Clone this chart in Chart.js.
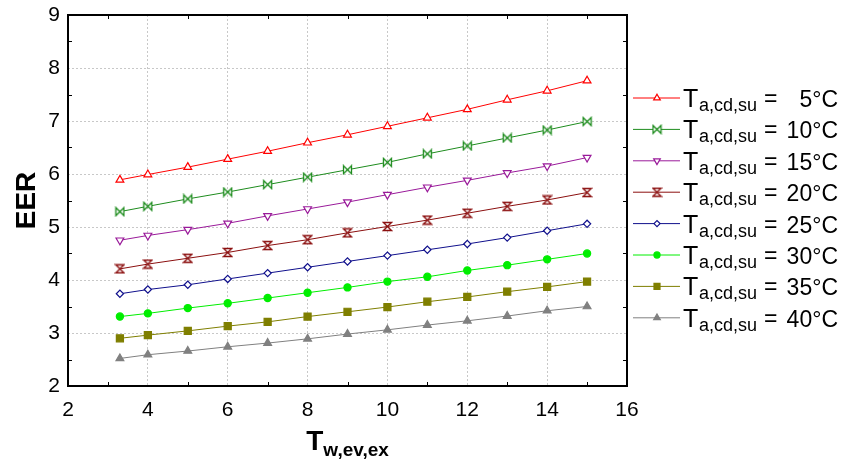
<!DOCTYPE html>
<html>
<head>
<meta charset="utf-8">
<script src="https://cdn.jsdelivr.net/npm/chart.js"></script>
<style>
  html, body { margin: 0; padding: 0; background: #fff; }
</style>
</head>
<body>
<canvas id="eer-chart" width="842" height="463"></canvas>
<script>
// Chilled-water outlet temperature (x) and ambient air temperatures (one line each)
const tWater = [3.3, 4, 5, 6, 7, 8, 9, 10, 11, 12, 13, 14, 15];
const tAir   = [5, 10, 15, 20, 25, 30, 35, 40];

const eer05 = [5.89, 5.99, 6.13, 6.28, 6.43, 6.59, 6.74, 6.90, 7.06, 7.22, 7.40, 7.57, 7.76];
const eer10 = [5.29, 5.39, 5.53, 5.66, 5.80, 5.94, 6.08, 6.22, 6.38, 6.53, 6.68, 6.83, 6.99];
const eer15 = [4.75, 4.84, 4.95, 5.07, 5.21, 5.34, 5.47, 5.61, 5.75, 5.88, 6.02, 6.15, 6.31];
const eer20 = [4.21, 4.30, 4.41, 4.52, 4.65, 4.76, 4.89, 5.01, 5.13, 5.26, 5.39, 5.51, 5.65];
const eer25 = [3.74, 3.82, 3.91, 4.02, 4.13, 4.24, 4.35, 4.46, 4.57, 4.68, 4.80, 4.93, 5.06];
const eer30 = [3.31, 3.37, 3.47, 3.56, 3.66, 3.76, 3.86, 3.97, 4.06, 4.18, 4.28, 4.39, 4.50];
const eer35 = [2.90, 2.96, 3.04, 3.13, 3.21, 3.31, 3.40, 3.49, 3.59, 3.68, 3.78, 3.87, 3.97];
const eer40 = [2.52, 2.59, 2.66, 2.74, 2.81, 2.89, 2.98, 3.06, 3.15, 3.23, 3.32, 3.42, 3.50];

const yTicks = [2, 3, 4, 5, 6, 7, 8, 9];
const xTicks = [2, 4, 6, 8, 10, 12, 14, 16];

const FONT = '"Liberation Sans", Arial, sans-serif';

// small canvas markers for the two glyphs Chart.js doesn't have
function glyph(color, path) {
  const c = document.createElement('canvas');
  c.width = 11; c.height = 11;
  const g = c.getContext('2d');
  g.strokeStyle = color;
  g.fillStyle = '#fff';
  g.lineWidth = 1.3;
  g.beginPath();
  path(g);
  g.closePath();
  g.fill();
  g.stroke();
  return c;
}
const bowtie = glyph('#1e8c1e', g => {
  g.moveTo(1.5, 1.5); g.lineTo(9.5, 9.5); g.lineTo(9.5, 1.5); g.lineTo(1.5, 9.5);
});
const hourglass = glyph('#8b0f0f', g => {
  g.moveTo(1.5, 1.5); g.lineTo(9.5, 1.5); g.lineTo(1.5, 9.5); g.lineTo(9.5, 9.5);
});

const series = [
  { data: eer05, color: '#ff0000', style: 'triangle', fill: '#fff',    r: 4.5, rot: 0 },
  { data: eer10, color: '#1e8c1e', style: bowtie,     fill: '#fff',    r: 5,   rot: 0 },
  { data: eer15, color: '#9a1a9a', style: 'triangle', fill: '#fff',    r: 4.5, rot: 180 },
  { data: eer20, color: '#8b0f0f', style: hourglass,  fill: '#fff',    r: 5,   rot: 0 },
  { data: eer25, color: '#10108c', style: 'rectRot',  fill: '#fff',    r: 3.6, rot: 0 },
  { data: eer30, color: '#00ee00', style: 'circle',   fill: '#00ee00', r: 3.6, rot: 0 },
  { data: eer35, color: '#7f7f00', style: 'rect',     fill: '#7f7f00', r: 5,   rot: 0 },
  { data: eer40, color: '#808080', style: 'triangle', fill: '#808080', r: 4.5, rot: 0 },
];

const datasets = series.map((s, i) => ({
  label: 'T = ' + tAir[i] + '°C',
  data: s.data.map((v, j) => ({ x: tWater[j], y: v })),
  borderColor: s.color,
  borderWidth: 1,
  pointStyle: s.style,
  pointRotation: s.rot,
  pointRadius: s.r,
  pointBorderColor: s.color,
  pointBackgroundColor: s.fill,
  pointBorderWidth: 1.2,
  tension: 0,
}));

// frame, inward minor ticks, axis titles and subscripted legend
const decor = {
  id: 'decor',
  afterDraw(chart) {
    const { ctx, chartArea: a, scales: { x, y } } = chart;
    ctx.save();

    ctx.strokeStyle = '#000';
    ctx.lineWidth = 2;
    ctx.strokeRect(a.left, a.top, a.right - a.left, a.bottom - a.top);

    ctx.lineWidth = 1;
    ctx.beginPath();
    for (let v = 2.5; v < 9; v += 1) {
      const py = Math.round(y.getPixelForValue(v)) + 0.5;
      ctx.moveTo(a.left, py); ctx.lineTo(a.left + 4, py);
      ctx.moveTo(a.right, py); ctx.lineTo(a.right - 4, py);
    }
    for (let v = 3; v < 16; v += 2) {
      const px = Math.round(x.getPixelForValue(v)) + 0.5;
      ctx.moveTo(px, a.bottom); ctx.lineTo(px, a.bottom - 4);
      ctx.moveTo(px, a.top); ctx.lineTo(px, a.top + 4);
    }
    ctx.stroke();

    // y title
    ctx.fillStyle = '#000';
    ctx.save();
    ctx.translate(27, (a.top + a.bottom) / 2);
    ctx.rotate(-Math.PI / 2);
    ctx.font = 'bold 28px ' + FONT;
    ctx.textAlign = 'center';
    ctx.textBaseline = 'middle';
    ctx.fillText('EER', 0, 0);
    ctx.restore();

    // x title with subscript
    ctx.textAlign = 'left';
    ctx.textBaseline = 'alphabetic';
    ctx.font = 'bold 28px ' + FONT;
    const wT = ctx.measureText('T').width;
    ctx.font = 'bold 19px ' + FONT;
    const wSub = ctx.measureText('w,ev,ex').width;
    const x0 = (a.left + a.right) / 2 - (wT + wSub) / 2;
    ctx.font = 'bold 28px ' + FONT;
    ctx.fillText('T', x0, 450);
    ctx.font = 'bold 19px ' + FONT;
    ctx.fillText('w,ev,ex', x0 + wT, 456);

    // legend
    chart.data.datasets.forEach((ds, i) => {
      const ly = 98 + i * 31.4;
      ctx.strokeStyle = ds.borderColor;
      ctx.lineWidth = 1;
      ctx.beginPath();
      ctx.moveTo(633, ly); ctx.lineTo(680, ly);
      ctx.stroke();

      ctx.fillStyle = ds.pointBackgroundColor;
      ctx.strokeStyle = ds.pointBorderColor;
      ctx.lineWidth = 1.2;
      Chart.helpers.drawPoint(ctx, {
        pointStyle: ds.pointStyle,
        rotation: ds.pointRotation,
        radius: ds.pointRadius * 0.85,
        borderWidth: 1.2,
      }, 657, ly);

      ctx.fillStyle = '#000';
      ctx.textAlign = 'left';
      ctx.font = '25px ' + FONT;
      ctx.fillText('T', 683, ly + 9);
      ctx.font = '18px ' + FONT;
      ctx.fillText('a,cd,su', 699, ly + 13);
      ctx.font = '23px ' + FONT;
      ctx.fillText('=', 764, ly + 8);
      ctx.textAlign = 'right';
      ctx.fillText(tAir[i] + '°C', 838, ly + 9);
    });

    ctx.restore();
  }
};

new Chart(document.getElementById('eer-chart'), {
  type: 'line',
  data: { datasets },
  options: {
    responsive: false,
    animation: false,
    layout: { padding: { top: 15, right: 215, bottom: 0, left: 0 } },
    scales: {
      x: {
        type: 'linear',
        min: 2, max: 16,
        afterBuildTicks: s => { s.ticks = xTicks.map(v => ({ value: v })); },
        afterFit: s => { s.height = 77; },
        ticks: { color: '#000', font: { size: 21, family: FONT }, padding: 12, maxRotation: 0 },
        grid: { color: '#c8c8c8', lineWidth: 1, drawTicks: false },
        border: { display: false, dash: [2, 2] },
      },
      y: {
        min: 2, max: 9,
        afterBuildTicks: s => { s.ticks = yTicks.map(v => ({ value: v })); },
        afterFit: s => { s.width = 68; s.paddingTop = 0; s.paddingBottom = 0; },
        ticks: { color: '#000', font: { size: 21, family: FONT }, padding: 8 },
        grid: { color: '#c8c8c8', lineWidth: 1, drawTicks: false },
        border: { display: false, dash: [2, 2] },
      },
    },
    plugins: {
      legend: { display: false },
      tooltip: { enabled: false },
    },
  },
  plugins: [decor],
});
</script>
</body>
</html>
